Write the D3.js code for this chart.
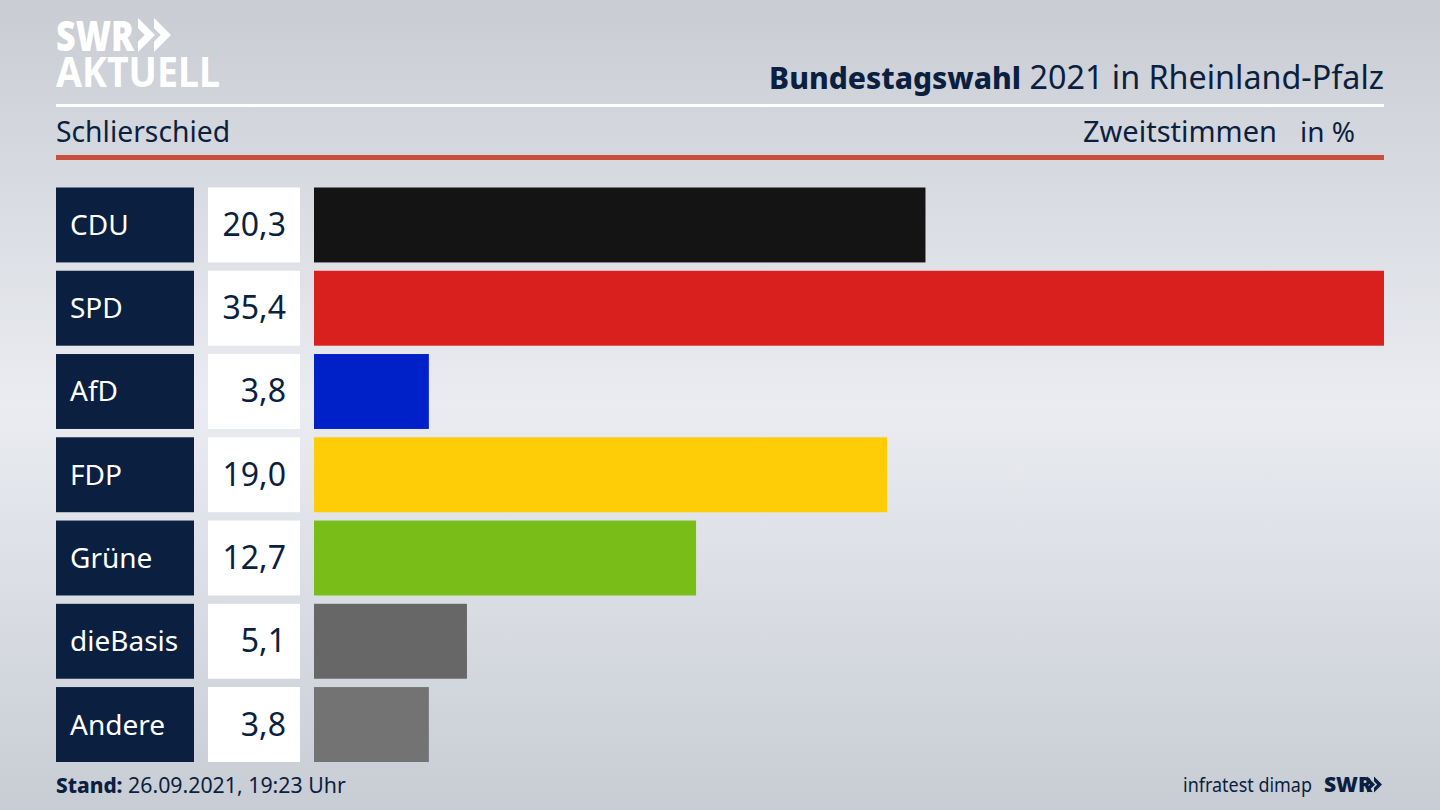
<!DOCTYPE html>
<html>
<head>
<meta charset="utf-8">
<script src="https://cdn.jsdelivr.net/npm/d3@7"></script>
<style>
  html, body { margin: 0; padding: 0; background: #d5d8de; }
  svg { display: block; }
  text { font-family: "Noto Sans", sans-serif; fill: #0b1f40; }
</style>
</head>
<body>
<svg id="chart" width="1440" height="810"></svg>
<script>
// data
const parties = ["CDU", "SPD", "AfD", "FDP", "Grüne", "dieBasis", "Andere"]
// printed percentages
const labels = ["20,3", "35,4", "3,8", "19,0", "12,7", "5,1", "3,8"]
// bar lengths as measured on the picture, in percent of the SPD scale
const values = [20.23, 35.4, 3.8, 18.96, 12.64, 5.06, 3.8]
const barColors = ["#141414", "#d9201f", "#0020c8", "#ffcc08", "#79bd18", "#676767", "#737373"]

const navy = "#0b1f40"

const svg = d3.select("#chart")

// background gradient
const grad = svg.append("defs").append("linearGradient")
    .attr("id", "bg").attr("x1", 0).attr("x2", 0).attr("y1", 0).attr("y2", 1)
grad.append("stop").attr("offset", "0%").attr("stop-color", "#c9ccd3")
grad.append("stop").attr("offset", "50%").attr("stop-color", "#eaecf1")
grad.append("stop").attr("offset", "100%").attr("stop-color", "#c8ccd4")
svg.append("rect").attr("width", 1440).attr("height", 810).attr("fill", "url(#bg)")

// scales
const y = d3.scaleBand().domain(parties).range([187.5, 762]).paddingInner(0.1)
const x = d3.scaleLinear().domain([0, 35.4]).range([314, 1384])

// rows
const rows = svg.selectAll(".row")
    .data(parties)
    .join("g")
    .attr("class", "row")
    .attr("transform", d => `translate(0,${y(d)})`)

rows.append("rect")
    .attr("x", 56).attr("width", 138).attr("height", y.bandwidth())
    .attr("fill", navy)
rows.append("text")
    .attr("x", 70).attr("y", y.bandwidth() / 2 + 10)
    .attr("font-size", 28)
    .style("fill", "#fff")
    .text(d => d)

rows.append("rect")
    .attr("x", 208).attr("width", 92).attr("height", y.bandwidth())
    .attr("fill", "#fff")
rows.append("text")
    .attr("x", 286).attr("y", y.bandwidth() / 2 + 11)
    .attr("text-anchor", "end")
    .attr("font-size", 32)
    .text((d, i) => labels[i])

rows.append("rect")
    .attr("x", x(0))
    .attr("width", (d, i) => x(values[i]) - x(0))
    .attr("height", y.bandwidth())
    .attr("fill", (d, i) => barColors[i])

// header
svg.append("rect").attr("x", 56).attr("y", 104).attr("width", 1328).attr("height", 3).attr("fill", "#fff")
svg.append("rect").attr("x", 56).attr("y", 155).attr("width", 1328).attr("height", 5).attr("fill", "#c8503c")

const title = svg.append("text")
    .attr("x", 1384).attr("y", 89)
    .attr("text-anchor", "end")
title.append("tspan").attr("font-weight", 800).attr("font-size", 30).text("Bundestagswahl")
title.append("tspan").attr("font-size", 32.3).text(" 2021 in Rheinland-Pfalz")

svg.append("text").attr("x", 56).attr("y", 142).attr("font-size", 28.3).text("Schlierschied")
svg.append("text").attr("x", 1277).attr("y", 142).attr("text-anchor", "end").attr("font-size", 29).text("Zweitstimmen")
svg.append("text").attr("x", 1355).attr("y", 142).attr("text-anchor", "end").attr("font-size", 28).text("in %")

// footer
const stand = svg.append("text").attr("x", 56).attr("y", 793)
stand.append("tspan").attr("font-weight", 800).attr("font-size", 20.8).text("Stand:")
stand.append("tspan").attr("font-size", 21.3).text(" 26.09.2021, 19:23 Uhr")

svg.append("text").attr("x", 1183).attr("y", 792)
    .attr("font-size", 20)
    .attr("textLength", 129).attr("lengthAdjust", "spacingAndGlyphs")
    .text("infratest dimap")
svg.append("text").attr("x", 1324).attr("y", 792).attr("font-size", 21).attr("font-weight", 900).text("SWR")

// chevrons of the logos
function chevrons(x0, y0, h, color) {
    const w = h / 2
    const t = h * 0.3
    for (const dx of [0, w - 1]) {
        svg.append("path")
            .attr("d", `M${x0 + dx},${y0}L${x0 + dx + w},${y0 + h / 2}L${x0 + dx},${y0 + h}L${x0 + dx},${y0 + h - t}L${x0 + dx + w - t},${y0 + h / 2}L${x0 + dx},${y0 + t}Z`)
            .attr("fill", color)
    }
}

// logo
svg.append("text").attr("x", 56).attr("y", 51)
    .attr("font-size", 43).attr("font-weight", 900)
    .attr("textLength", 78).attr("lengthAdjust", "spacingAndGlyphs")
    .style("fill", "#fff").text("SWR")
svg.append("text").attr("x", 56).attr("y", 87)
    .attr("font-size", 41).attr("font-weight", 700)
    .attr("textLength", 164).attr("lengthAdjust", "spacingAndGlyphs")
    .style("fill", "#fff").text("AKTUELL")
chevrons(138, 18, 34, "#fff")
chevrons(1367, 776.5, 16, navy)
</script>
</body>
</html>
